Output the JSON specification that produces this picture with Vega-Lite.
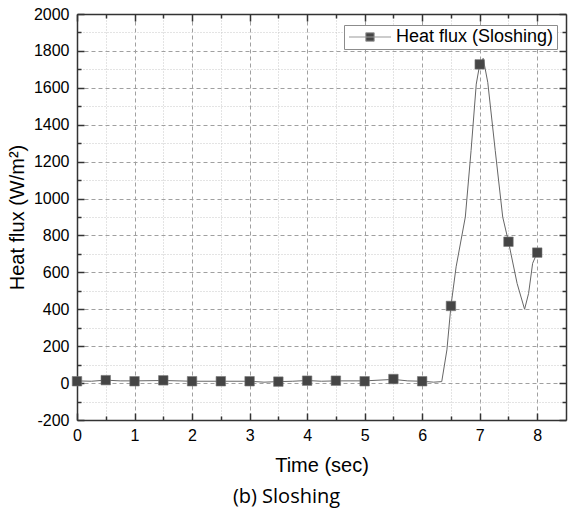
{
  "$schema": "https://vega.github.io/schema/vega-lite/v6.json",
  "autosize": "none",
  "width": 489,
  "height": 406,
  "padding": {"left": 77, "top": 14, "right": 2, "bottom": 97},
  "background": "white",
  "config": {"view": {"stroke": null}},
  "title": {
    "text": "(b) Sloshing",
    "orient": "bottom",
    "anchor": "middle",
    "dx": -35,
    "offset": 12,
    "font": "Open Sans",
    "fontSize": 20,
    "fontWeight": "normal",
    "color": "black"
  },
  "datasets": {
    "line": [
      {"t": 0, "q": 12}, {"t": 0.25, "q": 10}, {"t": 0.5, "q": 16}, {"t": 0.75, "q": 12},
      {"t": 1, "q": 12}, {"t": 1.5, "q": 14}, {"t": 2, "q": 10}, {"t": 2.5, "q": 10},
      {"t": 3, "q": 10}, {"t": 3.25, "q": 5}, {"t": 3.5, "q": 8}, {"t": 3.75, "q": 10},
      {"t": 4, "q": 14}, {"t": 4.25, "q": 10}, {"t": 4.5, "q": 12}, {"t": 5, "q": 12},
      {"t": 5.5, "q": 20}, {"t": 5.75, "q": 12}, {"t": 6, "q": 10}, {"t": 6.2, "q": 5},
      {"t": 6.34, "q": 8}, {"t": 6.43, "q": 180}, {"t": 6.5, "q": 418}, {"t": 6.59, "q": 630},
      {"t": 6.75, "q": 900}, {"t": 6.85, "q": 1260}, {"t": 6.94, "q": 1620}, {"t": 7.0, "q": 1727},
      {"t": 7.06, "q": 1760}, {"t": 7.14, "q": 1630}, {"t": 7.27, "q": 1260}, {"t": 7.4, "q": 900},
      {"t": 7.5, "q": 766}, {"t": 7.65, "q": 540}, {"t": 7.78, "q": 400}, {"t": 7.85, "q": 486},
      {"t": 7.92, "q": 649}, {"t": 8.0, "q": 707}
    ],
    "points": [
      {"t": 0, "q": 10, "s": "Heat flux (Sloshing)"},
      {"t": 0.5, "q": 16, "s": "Heat flux (Sloshing)"},
      {"t": 1, "q": 10, "s": "Heat flux (Sloshing)"},
      {"t": 1.5, "q": 15, "s": "Heat flux (Sloshing)"},
      {"t": 2, "q": 10, "s": "Heat flux (Sloshing)"},
      {"t": 2.5, "q": 10, "s": "Heat flux (Sloshing)"},
      {"t": 3, "q": 10, "s": "Heat flux (Sloshing)"},
      {"t": 3.5, "q": 8, "s": "Heat flux (Sloshing)"},
      {"t": 4, "q": 13, "s": "Heat flux (Sloshing)"},
      {"t": 4.5, "q": 13, "s": "Heat flux (Sloshing)"},
      {"t": 5, "q": 10, "s": "Heat flux (Sloshing)"},
      {"t": 5.5, "q": 22, "s": "Heat flux (Sloshing)"},
      {"t": 6, "q": 10, "s": "Heat flux (Sloshing)"},
      {"t": 6.5, "q": 418, "s": "Heat flux (Sloshing)"},
      {"t": 7, "q": 1727, "s": "Heat flux (Sloshing)"},
      {"t": 7.5, "q": 766, "s": "Heat flux (Sloshing)"},
      {"t": 8, "q": 707, "s": "Heat flux (Sloshing)"}
    ]
  },
  "resolve": {"axis": {"x": "independent", "y": "independent"}},
  "layer": [
    {
      "data": {"name": "line"},
      "mark": {"type": "line", "color": "#666666", "strokeWidth": 1, "clip": true},
      "encoding": {
        "x": {
          "field": "t", "type": "quantitative",
          "scale": {"domain": [0, 8.5], "nice": false, "zero": false},
          "axis": {
            "orient": "bottom",
            "title": "Time (sec)",
            "titleFont": "Arial", "titleFontSize": 20, "titleFontWeight": "normal", "titleColor": "black",
            "titlePadding": 9,
            "values": [0, 0.5, 1, 1.5, 2, 2.5, 3, 3.5, 4, 4.5, 5, 5.5, 6, 6.5, 7, 7.5, 8],
            "labelExpr": "datum.value % 1 === 0 ? '' + datum.value : ''",
            "labelFont": "Arial", "labelFontSize": 16, "labelColor": "black",
            "labelPadding": 14, "labelFlush": false, "labelOverlap": false,
            "domainColor": "#333333", "domainWidth": 1.5,
            "tickColor": "#333333", "tickWidth": 1.5,
            "tickSize": {"condition": {"test": "datum.value % 1 === 0", "value": -7}, "value": -4},
            "grid": true,
            "gridColor": {"condition": {"test": "datum.value % 1 === 0", "value": "#a0a0a0"}, "value": "#c8c8c8"},
            "gridDash": {"condition": {"test": "datum.value % 1 === 0", "value": [4, 3]}, "value": [1, 2]},
            "gridWidth": 1
          }
        },
        "y": {
          "field": "q", "type": "quantitative",
          "scale": {"domain": [-200, 2000], "nice": false, "zero": false},
          "axis": {
            "orient": "left",
            "title": "Heat flux (W/m²)",
            "titleFont": "Arial", "titleFontSize": 20, "titleFontWeight": "normal", "titleColor": "black",
            "titlePadding": 6,
            "values": [-200, -100, 0, 100, 200, 300, 400, 500, 600, 700, 800, 900, 1000, 1100, 1200, 1300, 1400, 1500, 1600, 1700, 1800, 1900, 2000],
            "labelExpr": "datum.value % 200 === 0 ? '' + datum.value : ''",
            "labelFont": "Arial", "labelFontSize": 16, "labelColor": "black",
            "labelPadding": 15, "labelFlush": false, "labelOverlap": false,
            "domainColor": "#333333", "domainWidth": 1.5,
            "tickColor": "#333333", "tickWidth": 1.5,
            "tickSize": {"condition": {"test": "datum.value % 200 === 0", "value": -7}, "value": -4},
            "grid": true,
            "gridColor": {"condition": {"test": "datum.value % 200 === 0", "value": "#a0a0a0"}, "value": "#c8c8c8"},
            "gridDash": {"condition": {"test": "datum.value % 200 === 0", "value": [4, 3]}, "value": [1, 2]},
            "gridWidth": 1
          }
        }
      }
    },
    {
      "data": {"name": "points"},
      "mark": {"type": "point", "shape": "square", "filled": true, "size": 90, "opacity": 1, "stroke": "#777777", "strokeWidth": 0.6},
      "encoding": {
        "x": {
          "field": "t", "type": "quantitative",
          "axis": {
            "orient": "top",
            "title": null,
            "labels": false,
            "values": [0, 0.5, 1, 1.5, 2, 2.5, 3, 3.5, 4, 4.5, 5, 5.5, 6, 6.5, 7, 7.5, 8],
            "domainColor": "#333333", "domainWidth": 1.5,
            "tickColor": "#333333", "tickWidth": 1.5,
            "tickSize": {"condition": {"test": "datum.value % 1 === 0", "value": -7}, "value": -4},
            "grid": false
          }
        },
        "y": {
          "field": "q", "type": "quantitative",
          "axis": {
            "orient": "right",
            "title": null,
            "labels": false,
            "values": [-200, -100, 0, 100, 200, 300, 400, 500, 600, 700, 800, 900, 1000, 1100, 1200, 1300, 1400, 1500, 1600, 1700, 1800, 1900, 2000],
            "domainColor": "#333333", "domainWidth": 1.5,
            "tickColor": "#333333", "tickWidth": 1.5,
            "tickSize": {"condition": {"test": "datum.value % 200 === 0", "value": -7}, "value": -4},
            "grid": false
          }
        },
        "color": {
          "field": "s", "type": "nominal",
          "scale": {"range": ["#454545"]},
          "legend": {
            "title": null,
            "orient": "none",
            "legendX": 267,
            "legendY": 11,
            "fillColor": "white",
            "strokeColor": "#8c8c8c",
            "padding": 3,
            "symbolType": "M-3,0H3M-0.6,-0.6H0.6V0.6H-0.6Z",
            "symbolSize": 196,
            "symbolOffset": 14,
            "symbolStrokeColor": "#999999",
            "symbolStrokeWidth": 1,
            "labelFont": "Arial",
            "labelFontSize": 18,
            "labelColor": "black",
            "labelOffset": 17,
            "labelLimit": 300
          }
        }
      }
    }
  ]
}
